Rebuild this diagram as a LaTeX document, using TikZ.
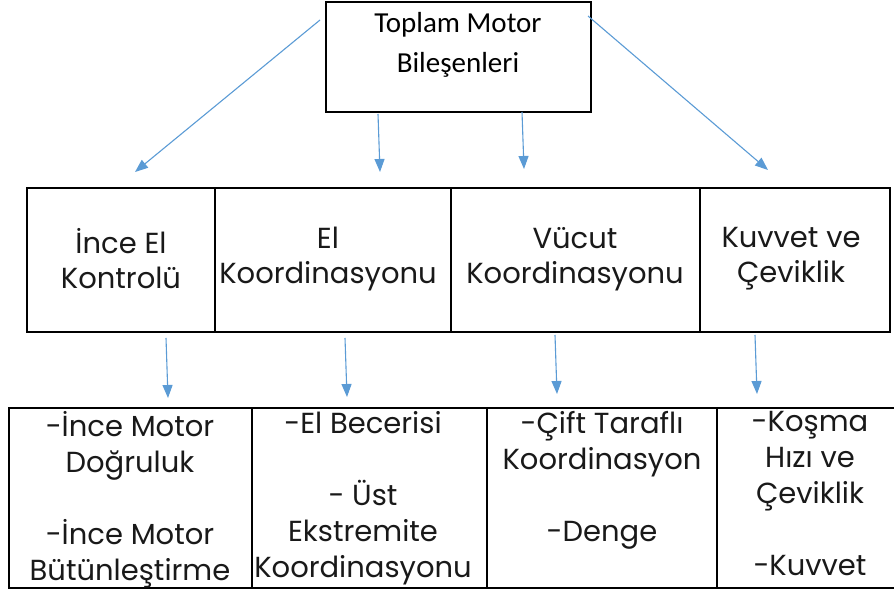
\documentclass[tikz,border=0pt]{standalone}
\usepackage{fontspec}
\setmainfont{Poppins}
\newfontfamily\calib{Carlito}
\usetikzlibrary{arrows.meta,fit}
\definecolor{arr}{HTML}{5B9BD5}
\begin{document}
\begin{tikzpicture}[x=1pt,y=-1pt,
  box/.style={draw=black, line width=2pt, inner sep=0pt},
  mtxt/.style={align=center, inner sep=0pt,
    font=\fontsize{29}{35}\selectfont, text=black!90},
  btxt/.style={anchor=north, align=center, inner sep=0pt,
    font=\fontsize{29}{36}\selectfont, text=black!90},
  con/.style={draw=arr, line width=1.1pt, -{Triangle[length=13pt,width=10pt]}}]
\useasboundingbox (0,0) rectangle (894,593);
% top
\node[box, line width=2.4pt, fit={(326,2)(591,112)}] (top) {};
\node[anchor=north, align=center, inner sep=0pt, font=\calib\fontsize{29}{40}\selectfont] (toptxt) at (458,12) {Toplam Motor\\Bileşenleri};
% middle
\node[box, fit={(27,188)(215,332)}] (m1) {};
\node[box, fit={(215,188)(451,332)}] (m2) {};
\node[box, fit={(451,188)(700,332)}] (m3) {};
\node[box, fit={(700,188)(890,332)}] (m4) {};
\node[mtxt] (mt1) at (121,259) {İnce El\\Kontrolü};
\node[mtxt] (mt2) at (328,259) {El\\Koordinasyonu};
\node[mtxt] (mt3) at (575,259) {Vücut\\Koordinasyonu};
\node[mtxt] (mt4) at (791,259) {Kuvvet ve\\Çeviklik};
% bottom
\node[box, fit={(9,408)(252,588)}] (b1) {};
\node[box, fit={(252,408)(487,588)}] (b2) {};
\node[box, fit={(487,408)(717,588)}] (b3) {};
\draw[line width=2pt] (717,408) -- (904,408);
\draw[line width=2pt] (717,588) -- (904,588);
\node[btxt] (t1) at (130,411) {-İnce Motor\\Doğruluk\\[36pt]-İnce Motor\\Bütünleştirme};
\node[btxt] (t2) at (363,411) {-El Becerisi\\[36pt]- Üst\\Ekstremite\\Koordinasyonu};
\node[btxt] (t3) at (602,411) {-Çift Taraflı\\Koordinasyon\\[36pt]-Denge};
\node[btxt] (t4) at (810,411) {-Koşma\\Hızı ve\\Çeviklik\\[36pt]-Kuvvet};
% arrow ends
\coordinate (s1) at (320,20);  \coordinate (e1) at (135,172);
\coordinate (s2) at (378,114); \coordinate (e2) at (380,172);
\coordinate (s3) at (522,112); \coordinate (e3) at (524,169);
\coordinate (s4) at (588,16);  \coordinate (e4) at (768,170);
\coordinate (s5) at (166,338); \coordinate (e5) at (168,398);
\coordinate (s6) at (345,338); \coordinate (e6) at (347,397);
\coordinate (s7) at (555,335); \coordinate (e7) at (557,394);
\coordinate (s8) at (755,335); \coordinate (e8) at (757,394);
\foreach \i in {1,...,8} \draw[con] (s\i) -- (e\i);
\end{tikzpicture}
\end{document}
